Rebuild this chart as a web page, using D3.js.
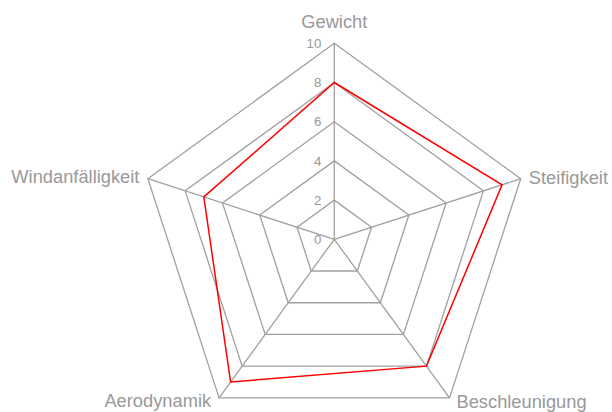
<!DOCTYPE html>
<html>
<head>
<meta charset="utf-8">
<script src="https://cdn.jsdelivr.net/npm/d3@7"></script>
<style>
  body { margin: 0; background: #fff; }
  svg { display: block; font-family: "Liberation Sans", Arial, sans-serif; }
</style>
</head>
<body>
<div class="chart"></div>
<script>
var axes = ["Gewicht", "Steifigkeit", "Beschleunigung", "Aerodynamik", "Windanfälligkeit"];
var values = [8, 9, 8, 9, 7];
var ticks = [0, 2, 4, 6, 8, 10];

var width = 612, height = 412;
var cx = 334.3, cy = 239.3, radius = 196;

var svg = d3.select(".chart").append("svg")
  .attr("width", width)
  .attr("height", height);

var r = d3.scaleLinear().domain([0, 10]).range([0, radius]);
var angle = d3.scaleLinear().domain([0, axes.length]).range([-Math.PI / 2, 1.5 * Math.PI]);

function pt(i, v) {
  var a = angle(i);
  return [cx + r(v) * Math.cos(a), cy + r(v) * Math.sin(a)];
}

var grey = "#a0a0a0";

// grid polygons
svg.selectAll("polygon.grid")
  .data(ticks.filter(function (t) { return t > 0; }))
  .enter().append("polygon")
  .attr("class", "grid")
  .attr("points", function (t) {
    return axes.map(function (d, i) { return pt(i, t).join(","); }).join(" ");
  })
  .attr("fill", "none")
  .attr("stroke", grey)
  .attr("stroke-width", 1.3);

// spokes
svg.selectAll("line.spoke")
  .data(axes)
  .enter().append("line")
  .attr("class", "spoke")
  .attr("x1", cx).attr("y1", cy)
  .attr("x2", function (d, i) { return pt(i, 10)[0]; })
  .attr("y2", function (d, i) { return pt(i, 10)[1]; })
  .attr("stroke", grey)
  .attr("stroke-width", 1.3);

// data line
svg.append("polygon")
  .attr("points", values.map(function (v, i) { return pt(i, v).join(","); }).join(" "))
  .attr("fill", "none")
  .attr("stroke", "#ff0000")
  .attr("stroke-width", 1.5);

// tick labels
svg.selectAll("text.tick")
  .data(ticks)
  .enter().append("text")
  .attr("class", "tick")
  .attr("x", cx - 13)
  .attr("y", function (t) { return cy - r(t); })
  .attr("dy", "0.36em")
  .attr("text-anchor", "end")
  .attr("font-size", 13.3)
  .attr("fill", "#999")
  .text(function (t) { return t; });

// axis labels
var labelPos = [
  { dx: 0, dy: -15, anchor: "middle" },
  { dx: 8, dy: 5, anchor: "start" },
  { dx: 7, dy: 10, anchor: "start" },
  { dx: -8, dy: 9.5, anchor: "end" },
  { dx: -8.5, dy: 4, anchor: "end" }
];

svg.selectAll("text.axis")
  .data(axes)
  .enter().append("text")
  .attr("class", "axis")
  .attr("x", function (d, i) { return pt(i, 10)[0] + labelPos[i].dx; })
  .attr("y", function (d, i) { return pt(i, 10)[1] + labelPos[i].dy; })
  .attr("text-anchor", function (d, i) { return labelPos[i].anchor; })
  .attr("font-size", 18.3)
  .attr("fill", "#999")
  .text(function (d) { return d; });
</script>
</body>
</html>
